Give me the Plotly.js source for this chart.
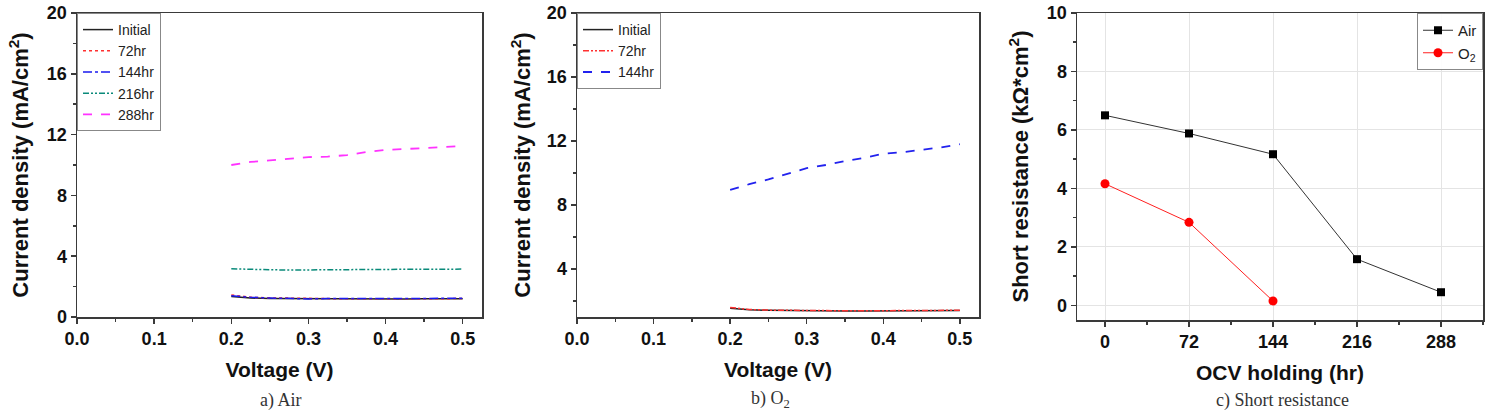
<!DOCTYPE html>
<html>
<head>
<meta charset="utf-8">
<script src="https://cdn.plot.ly/plotly-3.0.1.min.js"></script>
<style>html,body{margin:0;padding:0;background:#fff;}#chart{width:1490px;height:410px;}</style>
</head>
<body>
<div id="chart"></div>
<script>
// ---- Data ----
const voltage = [0.2, 0.225, 0.25, 0.275, 0.3, 0.325, 0.35, 0.375, 0.4, 0.425, 0.45, 0.475, 0.5];

// a) Air
const airInitial = [1.35, 1.25, 1.22, 1.21, 1.2, 1.19, 1.19, 1.18, 1.19, 1.19, 1.2, 1.2, 1.2];
const air72hr    = [1.45, 1.3, 1.26, 1.23, 1.21, 1.21, 1.2, 1.21, 1.21, 1.21, 1.22, 1.22, 1.21];
const air144hr   = [1.4, 1.3, 1.25, 1.21, 1.19, 1.21, 1.21, 1.23, 1.21, 1.23, 1.23, 1.24, 1.23];
const air216hr   = [3.17, 3.12, 3.11, 3.09, 3.09, 3.1, 3.11, 3.12, 3.13, 3.14, 3.14, 3.15, 3.15];
const air288hr   = [10.0, 10.2, 10.3, 10.42, 10.52, 10.55, 10.65, 10.85, 11.0, 11.05, 11.12, 11.18, 11.25];

// b) O2
const o2Initial = [1.55, 1.45, 1.42, 1.4, 1.39, 1.38, 1.38, 1.38, 1.38, 1.39, 1.4, 1.4, 1.41];
const o272hr    = [1.6, 1.47, 1.43, 1.41, 1.4, 1.39, 1.39, 1.39, 1.39, 1.4, 1.41, 1.41, 1.42];
const o2144hr   = [8.95, 9.3, 9.6, 9.95, 10.3, 10.5, 10.75, 10.95, 11.2, 11.3, 11.45, 11.6, 11.8];

// c) Short resistance
const ocvHours   = [0, 72, 144, 216, 288];
const resAir     = [6.5, 5.88, 5.17, 1.58, 0.45];
const ocvHoursO2 = [0, 72, 144];
const resO2      = [4.16, 2.84, 0.15];

// ---- Styling ----
const W = 1490, H = 410;
const px = v => v / W;
const py = v => 1 - v / H;
const FONT = 'Arial, "Liberation Sans", sans-serif';
const AX = '#3a3a3a';

function axisBase(extra) {
  return Object.assign({
    showline: true, linecolor: AX, linewidth: 1.5, mirror: true,
    ticks: 'outside', ticklen: 5, tickwidth: 1.5, tickcolor: AX,
    zeroline: false, showgrid: false,
    tickfont: {family: FONT, size: 18, color: '#111', weight: 'bold'}
  }, extra);
}

const data = [
  {x: voltage, y: airInitial, name: 'Initial', mode: 'lines', line: {color: '#222', width: 1.5, dash: 'solid'}, xaxis: 'x', yaxis: 'y', legend: 'legend'},
  {x: voltage, y: air72hr, name: '72hr', mode: 'lines', line: {color: '#ff3030', width: 1.5, dash: 'dot'}, xaxis: 'x', yaxis: 'y', legend: 'legend'},
  {x: voltage, y: air144hr, name: '144hr', mode: 'lines', line: {color: '#1a1aee', width: 1.5, dash: 'dashdot'}, xaxis: 'x', yaxis: 'y', legend: 'legend'},
  {x: voltage, y: air216hr, name: '216hr', mode: 'lines', line: {color: '#0a8a7a', width: 1.5, dash: '6px,2px,2px,2px,2px,2px'}, xaxis: 'x', yaxis: 'y', legend: 'legend'},
  {x: voltage, y: air288hr, name: '288hr', mode: 'lines', line: {color: '#ff33ff', width: 1.8, dash: 'dash'}, xaxis: 'x', yaxis: 'y', legend: 'legend'},

  {x: voltage, y: o2Initial, name: 'Initial', mode: 'lines', line: {color: '#222', width: 1.5, dash: 'solid'}, xaxis: 'x2', yaxis: 'y2', legend: 'legend2'},
  {x: voltage, y: o272hr, name: '72hr', mode: 'lines', line: {color: '#ff3030', width: 1.5, dash: '6px,2px,2px,2px,2px,2px'}, xaxis: 'x2', yaxis: 'y2', legend: 'legend2'},
  {x: voltage, y: o2144hr, name: '144hr', mode: 'lines', line: {color: '#2222ee', width: 1.8, dash: 'dash'}, xaxis: 'x2', yaxis: 'y2', legend: 'legend2'},

  {x: ocvHours, y: resAir, name: 'Air', mode: 'lines+markers', line: {color: '#333', width: 1}, marker: {symbol: 'square', size: 8, color: '#000'}, xaxis: 'x3', yaxis: 'y3', legend: 'legend3'},
  {x: ocvHoursO2, y: resO2, name: 'O<sub>2</sub>', mode: 'lines+markers', line: {color: '#ff2020', width: 1}, marker: {symbol: 'circle', size: 9, color: '#ff0000'}, xaxis: 'x3', yaxis: 'y3', legend: 'legend3'}
];

const titleFont = {family: FONT, size: 21, color: '#111', weight: 'bold'};
const yTitleFont = {family: FONT, size: 22, color: '#111', weight: 'bold'};

const legendBase = {
  bgcolor: 'rgba(255,255,255,0.9)', bordercolor: '#888', borderwidth: 1,
  font: {family: FONT, size: 14, color: '#222'},
  xanchor: 'left', yanchor: 'top', tracegroupgap: 0, itemwidth: 30
};

const layout = {
  width: W, height: H,
  margin: {l: 0, r: 0, t: 0, b: 0},
  paper_bgcolor: '#fff', plot_bgcolor: '#fff',
  showlegend: true,
  xaxis: axisBase({domain: [px(77), px(482)], range: [0, 0.525], dtick: 0.1, tickformat: '.1f', anchor: 'y',
    minor: {ticks: 'outside', ticklen: 3, dtick: 0.05, tickcolor: AX},
    title: {text: 'Voltage (V)', font: titleFont, standoff: 14}}),
  yaxis: axisBase({domain: [py(317), py(13)], range: [0, 20], dtick: 4, anchor: 'x',
    minor: {ticks: 'outside', ticklen: 3, dtick: 2, tickcolor: AX},
    title: {text: 'Current density (mA/cm<sup>2</sup>)', font: yTitleFont, standoff: 12}}),

  xaxis2: axisBase({domain: [px(577), px(979)], range: [0, 0.525], dtick: 0.1, tickformat: '.1f', anchor: 'y2',
    minor: {ticks: 'outside', ticklen: 3, dtick: 0.05, tickcolor: AX},
    title: {text: 'Voltage (V)', font: titleFont, standoff: 14}}),
  yaxis2: axisBase({domain: [py(317), py(13)], range: [1, 20], tick0: 0, dtick: 4, anchor: 'x2',
    minor: {ticks: 'outside', ticklen: 3, dtick: 2, tick0: 0, tickcolor: AX},
    title: {text: 'Current density (mA/cm<sup>2</sup>)', font: yTitleFont, standoff: 10}}),

  xaxis3: axisBase({domain: [px(1077), px(1483)], range: [-24, 324], tick0: 0, dtick: 72, anchor: 'y3',
    showgrid: true, gridcolor: '#e4e4e4', gridwidth: 1,
    minor: {ticks: 'outside', ticklen: 3, dtick: 36, tick0: 0, tickcolor: AX},
    title: {text: 'OCV holding (hr)', font: titleFont, standoff: 14}}),
  yaxis3: axisBase({domain: [py(320), py(13)], range: [-0.5, 10], dtick: 2, tick0: 0, anchor: 'x3',
    showgrid: true, gridcolor: '#e4e4e4', gridwidth: 1,
    minor: {ticks: 'outside', ticklen: 3, dtick: 1, tick0: 0, tickcolor: AX},
    title: {text: 'Short resistance (kΩ*cm<sup>2</sup>)', font: yTitleFont, standoff: 12}}),

  legend: Object.assign({}, legendBase, {x: px(77), y: py(13)}),
  legend2: Object.assign({}, legendBase, {x: px(577), y: py(13)}),
  legend3: Object.assign({}, legendBase, {x: px(1483), y: py(13), xanchor: 'right', font: {family: FONT, size: 15, color: '#222'}}),

  annotations: [
    {text: 'a) Air', x: px(280), y: py(388), xref: 'paper', yref: 'paper', xanchor: 'center', yanchor: 'top', showarrow: false,
     font: {family: '"Liberation Serif", "DejaVu Serif", serif', size: 18, color: '#333'}},
    {text: 'b) O<sub>2</sub>', x: px(770), y: py(386), xref: 'paper', yref: 'paper', xanchor: 'center', yanchor: 'top', showarrow: false,
     font: {family: '"Liberation Serif", "DejaVu Serif", serif', size: 18, color: '#333'}},
    {text: 'c) Short resistance', x: px(1282), y: py(388), xref: 'paper', yref: 'paper', xanchor: 'center', yanchor: 'top', showarrow: false,
     font: {family: '"Liberation Serif", "DejaVu Serif", serif', size: 18, color: '#333'}}
  ]
};

Plotly.newPlot('chart', data, layout, {displayModeBar: false, staticPlot: true});
</script>
</body>
</html>
